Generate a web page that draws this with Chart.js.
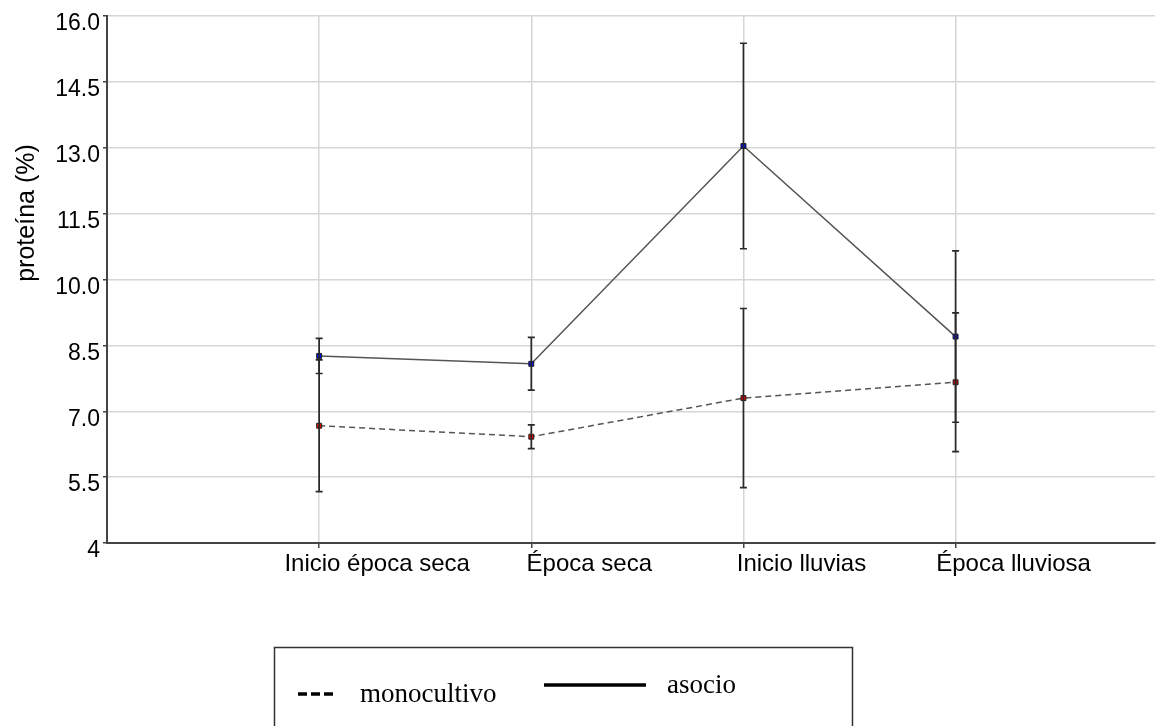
<!DOCTYPE html>
<html>
<head>
<meta charset="utf-8">
<script src="https://cdn.jsdelivr.net/npm/chart.js@4.4.1/dist/chart.umd.min.js"></script>
<style>
  html, body { margin: 0; padding: 0; background: #fff; }
  #wrap { width: 1160px; height: 726px; position: relative; }
</style>
</head>
<body>
<div id="wrap"><canvas id="c" width="1160" height="726"></canvas></div>
<script>
// ---- data ----
const categories = ['Inicio época seca', 'Época seca', 'Inicio lluvias', 'Época lluviosa'];
const categoryPositions = [1, 2, 3, 4];
const monocultivo = [6.67, 6.42, 7.30, 7.66];
const monocultivoErr = [1.50, 0.27, 2.04, 1.58];
const asocio = [8.26, 8.08, 13.04, 8.70];
const asocioErr = [0.40, 0.60, 2.34, 1.95];
const yTickValues = [4, 5.5, 7, 8.5, 10, 11.5, 13, 14.5, 16];
const yTickLabels = ['4', '5.5', '7.0', '8.5', '10.0', '11.5', '13.0', '14.5', '16.0'];
const yTitle = 'proteína (%)';
const seriesNames = ['monocultivo', 'asocio'];

const errorBars = {
  id: 'errorBars',
  afterDatasetsDraw(chart) {
    const ctx = chart.ctx;
    const xs = chart.scales.x, ys = chart.scales.y;
    ctx.save();
    ctx.strokeStyle = '#2a2a2a';
    ctx.lineWidth = 1.7;
    chart.data.datasets.forEach(ds => {
      ds.data.forEach((p, i) => {
        const e = ds.errors[i];
        const x = xs.getPixelForValue(p.x);
        const yt = ys.getPixelForValue(p.y + e);
        const yb = ys.getPixelForValue(p.y - e);
        ctx.beginPath();
        ctx.moveTo(x, yt); ctx.lineTo(x, yb);
        ctx.moveTo(x - 3.5, yt); ctx.lineTo(x + 3.5, yt);
        ctx.moveTo(x - 3.5, yb); ctx.lineTo(x + 3.5, yb);
        ctx.stroke();
      });
    });
    ctx.restore();
  }
};

const extras = {
  id: 'extras',
  afterDraw(chart) {
    const ctx = chart.ctx;
    ctx.save();
    // y title
    ctx.translate(27, 213);
    ctx.rotate(-Math.PI / 2);
    ctx.font = '25px "Liberation Sans", Arial, sans-serif';
    ctx.fillStyle = '#000';
    ctx.textAlign = 'center';
    ctx.textBaseline = 'middle';
    ctx.fillText(yTitle, 0, 0);
    ctx.restore();

    // legend box
    ctx.save();
    ctx.strokeStyle = '#333';
    ctx.lineWidth = 1.5;
    ctx.strokeRect(274.5, 647.5, 578, 100);
    ctx.strokeStyle = '#000';
    ctx.lineWidth = 3.5;
    ctx.setLineDash([9, 4]);
    ctx.beginPath(); ctx.moveTo(298, 694); ctx.lineTo(337, 694); ctx.stroke();
    ctx.setLineDash([]);
    ctx.beginPath(); ctx.moveTo(544, 685); ctx.lineTo(646, 685); ctx.stroke();
    ctx.fillStyle = '#000';
    ctx.font = '27px "Liberation Serif", "Times New Roman", serif';
    ctx.textBaseline = 'alphabetic';
    ctx.textAlign = 'left';
    ctx.fillText(seriesNames[0], 360, 702);
    ctx.fillText(seriesNames[1], 667, 693);
    ctx.restore();
  }
};

new Chart(document.getElementById('c'), {
  type: 'line',
  data: {
    datasets: [
      {
        label: seriesNames[0],
        data: categoryPositions.map((x, i) => ({ x, y: monocultivo[i] })),
        errors: monocultivoErr,
        borderColor: '#555',
        borderWidth: 1.5,
        borderDash: [6, 4],
        pointStyle: 'rect',
        pointRadius: 3.5,
        pointBackgroundColor: '#e00000',
        pointBorderColor: '#222',
        pointBorderWidth: 1,
        fill: false,
        tension: 0
      },
      {
        label: seriesNames[1],
        data: categoryPositions.map((x, i) => ({ x, y: asocio[i] })),
        errors: asocioErr,
        borderColor: '#555',
        borderWidth: 1.5,
        pointStyle: 'rect',
        pointRadius: 3.5,
        pointBackgroundColor: '#0000e0',
        pointBorderColor: '#222',
        pointBorderWidth: 1,
        fill: false,
        tension: 0
      }
    ]
  },
  options: {
    responsive: false,
    animation: false,
    layout: { padding: { top: 16, right: 0, left: 0, bottom: 0 } },
    plugins: { legend: { display: false }, tooltip: { enabled: false } },
    scales: {
      x: {
        type: 'linear',
        min: 0,
        max: 4.94,
        afterBuildTicks: (s) => { s.ticks = categoryPositions.map(v => ({ value: v })); },
        afterFit: (s) => { s.height = 183; s.paddingRight = 0; s.paddingLeft = 0; },
        ticks: {
          callback: (v) => categories[categoryPositions.indexOf(v)] || '',
          font: { family: '"Liberation Sans", Arial, sans-serif', size: 24 },
          color: '#000',
          labelOffset: 58,
          padding: 2,
          maxRotation: 0,
          autoSkip: false
        },
        grid: { color: '#d6d6d6', lineWidth: 1.5, tickLength: 5, tickColor: '#444' },
        border: { color: '#444', width: 2 }
      },
      y: {
        min: 4,
        max: 16,
        afterBuildTicks: (s) => { s.ticks = yTickValues.map(v => ({ value: v })); },
        afterFit: (s) => { s.width = 107; s.paddingTop = 0; s.paddingBottom = 0; },
        ticks: {
          callback: (v) => yTickLabels[yTickValues.indexOf(v)],
          font: { family: '"Liberation Sans", Arial, sans-serif', size: 23 },
          color: '#000',
          padding: 3,
          labelOffset: 8,
          autoSkip: false
        },
        grid: { color: '#d6d6d6', lineWidth: 1.5, tickLength: 4, tickColor: '#444' },
        border: { color: '#444', width: 2 }
      }
    }
  },
  plugins: [errorBars, extras]
});
</script>
</body>
</html>
